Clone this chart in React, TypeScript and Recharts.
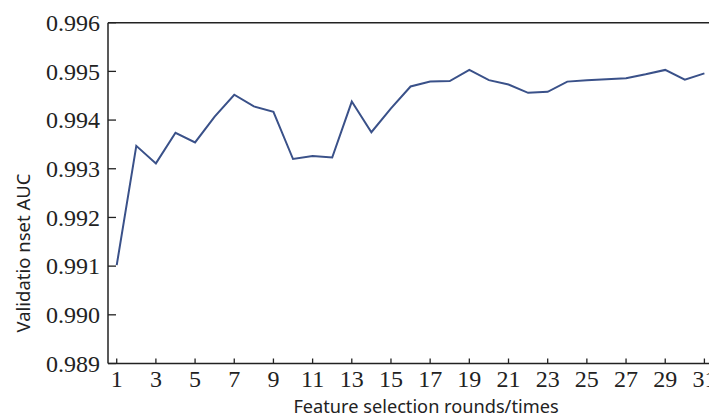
import React from "react";
import { LineChart, Line, XAxis, YAxis, ReferenceLine } from "recharts";

// Feature selection rounds and validation-set AUC per round
const rounds = [1, 2, 3, 4, 5, 6, 7, 8, 9, 10, 11, 12, 13, 14, 15, 16, 17, 18, 19, 20, 21, 22, 23, 24, 25, 26, 27, 28, 29, 30, 31];
const aucValues = [
  0.99102, 0.99347, 0.99311, 0.99374, 0.99354, 0.99407, 0.99452, 0.99428, 0.99417, 0.9932,
  0.99326, 0.99323, 0.99438, 0.99375, 0.99424, 0.99469, 0.99479, 0.9948, 0.99503, 0.99482,
  0.99473, 0.99456, 0.99458, 0.99479, 0.99482, 0.99484, 0.99486, 0.99494, 0.99503, 0.99483,
  0.99496,
];
const xTicks = [1, 3, 5, 7, 9, 11, 13, 15, 17, 19, 21, 23, 25, 27, 29, 31];
const yTicks = [0.989, 0.99, 0.991, 0.992, 0.993, 0.994, 0.995, 0.996];

const data = rounds.map((r, i) => ({ round: r, auc: aucValues[i] }));

const SERIF = "'Liberation Serif', 'Times New Roman', serif";
const SANS = "'Noto Sans', 'Open Sans', sans-serif";
const AXIS_COLOR = "#222";

const XTick = (props: any) => {
  const { x, y, payload } = props;
  return (
    <g>
      <line x1={x} x2={x} y1={y} y2={y - 5} stroke={AXIS_COLOR} strokeWidth={1.3} />
      <text x={x} y={y + 23.5} textAnchor="middle" fontFamily={SERIF} fontSize={24} fill="#222">
        {payload.value}
      </text>
    </g>
  );
};

const YTick = (props: any) => {
  const { x, y, payload } = props;
  return (
    <g>
      <line x1={x} x2={x + 8} y1={y} y2={y} stroke={AXIS_COLOR} strokeWidth={1.3} />
      <text x={x - 8} y={y + 8.2} textAnchor="end" fontFamily={SERIF} fontSize={24} fill="#222">
        {Number(payload.value).toFixed(3)}
      </text>
    </g>
  );
};

export default function App() {
  return (
    <div
      style={{
        position: "fixed",
        left: 0,
        top: 0,
        width: 709,
        height: 416,
        overflow: "hidden",
        background: "#fff",
      }}
    >
      <LineChart
        width={740}
        height={416}
        data={data}
        margin={{ top: 22.7, right: 25.8, left: 8, bottom: 0 }}
      >
        <XAxis
          dataKey="round"
          type="number"
          domain={[0.555, 31.5]}
          ticks={xTicks}
          allowDataOverflow
          height={52.5}
          tickSize={0}
          tickMargin={0}
          tick={<XTick />}
          tickLine={false}
          axisLine={{ stroke: AXIS_COLOR, strokeWidth: 1.5 }}
          interval={0}
        />
        <YAxis
          type="number"
          domain={[0.989, 0.996]}
          ticks={yTicks}
          allowDataOverflow
          width={100}
          tickSize={0}
          tickMargin={0}
          tick={<YTick />}
          tickLine={false}
          axisLine={{ stroke: AXIS_COLOR, strokeWidth: 1.5 }}
          interval={0}
        />
        <ReferenceLine y={0.996} stroke={AXIS_COLOR} strokeWidth={1.5} ifOverflow="visible" />
        <ReferenceLine x={31.5} stroke={AXIS_COLOR} strokeWidth={1.5} ifOverflow="visible" />
        <Line
          type="linear"
          dataKey="auc"
          stroke="#3a5189"
          strokeWidth={2}
          dot={false}
          isAnimationActive={false}
        />
      </LineChart>
      <svg
        width={709}
        height={416}
        style={{ position: "absolute", left: 0, top: 0, pointerEvents: "none" }}
      >
        <text x={426} y={412.5} textAnchor="middle" fontFamily={SANS} fontSize={18.2} fill="#222">
          Feature selection rounds/times
        </text>
        <text
          x={0}
          y={0}
          transform="translate(29.5 253) rotate(-90)"
          textAnchor="middle"
          fontFamily={SANS}
          fontSize={18.5}
          fill="#222"
        >
          Validatio nset AUC
        </text>
      </svg>
    </div>
  );
}
